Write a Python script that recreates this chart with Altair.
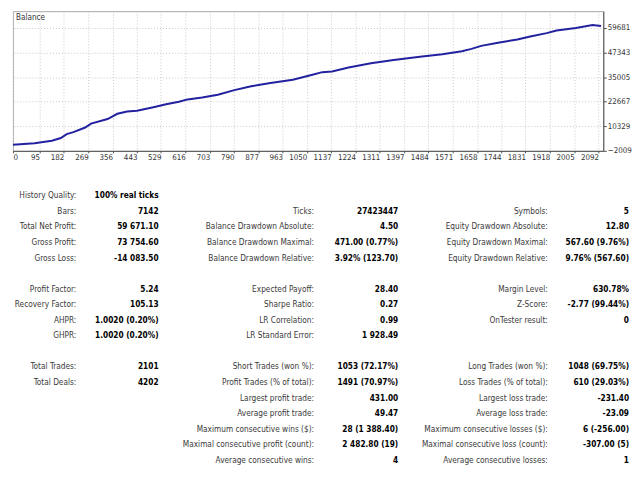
import altair as alt
import pandas as pd

# ---- balance curve (trade #, balance) ----
trade_no = [0, 77, 139, 171, 192, 216, 258, 279, 338, 373, 408, 443, 502, 547, 593,
            624, 676, 732, 791, 851, 920, 1000, 1070, 1105, 1140, 1199, 1279, 1360,
            1454, 1534, 1604, 1638, 1673, 1733, 1802, 1848, 1907, 1942, 2011, 2071, 2101]
balance = [1000, 1791, 3074, 4407, 6381, 7368, 9687, 11661, 13931, 16596, 17731, 18076,
           19853, 21334, 22666, 23801, 24788, 26121, 28440, 30414, 32043, 33671, 36139,
           37471, 37816, 39790, 41913, 43541, 45219, 46502, 47983, 49167, 50647, 52276,
           53905, 55385, 57062, 58346, 59679, 61107, 60671]

x_ticks = [0, 95, 182, 269, 356, 443, 529, 616, 703, 790, 877, 963, 1050, 1137, 1224,
           1311, 1397, 1484, 1571, 1658, 1744, 1831, 1918, 2005, 2092]
y_ticks = [-2009, 10329, 22667, 35005, 47343, 59681]
x_domain = [0, 2109]
y_domain = [-2009, 68071]

# ---- report table ----
rows_1 = [0, 1, 2, 3, 4, 6, 7, 8, 9, 11, 12]
labels_1 = ["History Quality:", "Bars:", "Total Net Profit:", "Gross Profit:", "Gross Loss:",
            "Profit Factor:", "Recovery Factor:", "AHPR:", "GHPR:", "Total Trades:", "Total Deals:"]
values_1 = ["100% real ticks", "7142", "59 671.10", "73 754.60", "-14 083.50",
            "5.24", "105.13", "1.0020 (0.20%)", "1.0020 (0.20%)", "2101", "4202"]

rows_2 = [1, 2, 3, 4, 6, 7, 8, 9, 11, 12, 13, 14, 15, 16, 17]
labels_2 = ["Ticks:", "Balance Drawdown Absolute:", "Balance Drawdown Maximal:",
            "Balance Drawdown Relative:", "Expected Payoff:", "Sharpe Ratio:", "LR Correlation:",
            "LR Standard Error:", "Short Trades (won %):", "Profit Trades (% of total):",
            "Largest profit trade:", "Average profit trade:", "Maximum consecutive wins ($):",
            "Maximal consecutive profit (count):", "Average consecutive wins:"]
values_2 = ["27423447", "4.50", "471.00 (0.77%)", "3.92% (123.70)", "28.40", "0.27", "0.99",
            "1 928.49", "1053 (72.17%)", "1491 (70.97%)", "431.00", "49.47", "28 (1 388.40)",
            "2 482.80 (19)", "4"]

rows_3 = [1, 2, 3, 4, 6, 7, 8, 11, 12, 13, 14, 15, 16, 17]
labels_3 = ["Symbols:", "Equity Drawdown Absolute:", "Equity Drawdown Maximal:",
            "Equity Drawdown Relative:", "Margin Level:", "Z-Score:", "OnTester result:",
            "Long Trades (won %):", "Loss Trades (% of total):", "Largest loss trade:",
            "Average loss trade:", "Maximum consecutive losses ($):",
            "Maximal consecutive loss (count):", "Average consecutive losses:"]
values_3 = ["5", "12.80", "567.60 (9.76%)", "9.76% (567.60)", "630.78%", "-2.77 (99.44%)", "0",
            "1048 (69.75%)", "610 (29.03%)", "-231.40", "-23.09", "6 (-256.00)",
            "-307.00 (5)", "1"]

FONT = "DejaVu Sans Condensed"
TFS = 8.3

curve = pd.DataFrame({"trade": trade_no, "balance": balance})

recs = []
for g, (rws, labs, vals) in enumerate([(rows_1, labels_1, values_1),
                                       (rows_2, labels_2, values_2),
                                       (rows_3, labels_3, values_3)]):
    for r, l, v in zip(rws, labs, vals):
        recs.append({"row": r, "slot": 2 * g, "text": l, "kind": "label"})
        recs.append({"row": r, "slot": 2 * g + 1, "text": v, "kind": "value"})
table = pd.DataFrame(recs)

line = alt.Chart(curve).mark_line(color="#2222a0", strokeWidth=2).encode(
    x=alt.X("trade:Q", scale=alt.Scale(domain=x_domain, nice=False, zero=False),
            axis=alt.Axis(values=x_ticks, format="d", title=None, grid=True,
                          gridDash=[1, 2], gridColor="#c8c8c8", domainColor="#505050",
                          tickColor="#505050", tickSize=2, labelPadding=1,
                          labelAlign=alt.condition("datum.value == 0", alt.value("left"), alt.value("right")),
                          labelFont=FONT, labelFontSize=8, labelColor="#333333")),
    y=alt.Y("balance:Q", scale=alt.Scale(domain=y_domain, nice=False, zero=False),
            axis=alt.Axis(values=y_ticks, format="d", title=None, orient="right", grid=True,
                          gridDash=[1, 2], gridColor="#c8c8c8", domainColor="#505050",
                          tickColor="#505050", tickSize=3, labelPadding=1,
                          labelFont=FONT, labelFontSize=8, labelColor="#333333")),
)
title_txt = alt.Chart(pd.DataFrame({"t": ["Balance"]})).mark_text(
    align="left", baseline="top", font=FONT, fontSize=8.2, color="#333333"
).encode(x=alt.value(3), y=alt.value(3), text="t:N")

top = alt.layer(line, title_txt).properties(
    width=596, height=141, view=alt.ViewBackground(stroke="#a8a8a8", fill="white"))

xs = alt.X("slot:Q", scale=alt.Scale(domain=[0, 1, 2, 3, 4, 5],
                                     range=[64, 147, 304, 389, 540, 622]), axis=None)
ys = alt.Y("row:Q", scale=alt.Scale(domain=[0, 17], range=[33, 300]), axis=None)

lab = alt.Chart(table).transform_filter("datum.kind == 'label'").mark_text(
    align="right", baseline="middle", font=FONT, fontSize=TFS, color="#3a3a3a"
).encode(x=xs, y=ys, text="text:N")
val = alt.Chart(table).transform_filter("datum.kind == 'value'").mark_text(
    align="right", baseline="middle", font=FONT, fontSize=TFS, fontWeight="bold", color="#000000"
).encode(x=xs, y=ys, text="text:N")

bottom = alt.layer(lab, val).properties(
    width=622, height=300, view=alt.ViewBackground(stroke="transparent"))

chart = alt.vconcat(top, bottom, spacing=0).properties(
    padding={"left": 0, "top": 0, "right": 0, "bottom": 0}, background="white"
).resolve_scale(x="independent", y="independent")

chart.save("out.html", embed_options={"renderer": "svg", "actions": False})
